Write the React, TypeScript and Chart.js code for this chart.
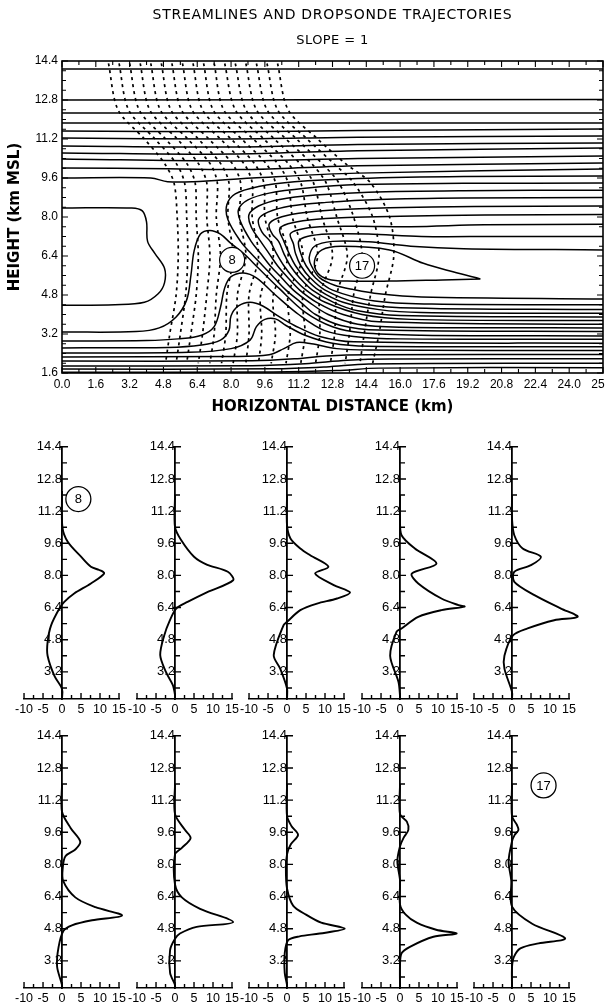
import React, { useEffect, useRef } from 'react';
import { Chart, registerables } from 'chart.js';

Chart.register(...registerables);

const SANS = '"Liberation Sans", Arial, Helvetica, sans-serif';
const DEJAVU = '"DejaVu Sans", "Liberation Sans", sans-serif';
const INK = '#000';

// ---------- texts ----------
const TITLE = 'STREAMLINES AND DROPSONDE TRAJECTORIES';
const SUBTITLE = 'SLOPE = 1';
const X_TITLE = 'HORIZONTAL DISTANCE (km)';
const Y_TITLE = 'HEIGHT (km MSL)';

// ---------- top panel axes ----------
const X_TICKS = [0, 1.6, 3.2, 4.8, 6.4, 8.0, 9.6, 11.2, 12.8, 14.4, 16.0, 17.6, 19.2, 20.8, 22.4, 24.0, 25.6];
const Y_TICKS = [1.6, 3.2, 4.8, 6.4, 8.0, 9.6, 11.2, 12.8, 14.4];
const X_RANGE = [0, 25.6];
const Y_RANGE = [1.6, 14.4];

// ---------- streamlines (x, y pairs, km) ----------
const STREAM_UPPER = [
  [0, 14.07, 25.6, 14.07],
  [0, 12.8, 25.6, 12.82],
  [0, 12.27, 25.6, 12.27],
  [0, 11.86, 25.6, 11.86],
  [0, 11.53, 8, 11.5, 14, 11.55, 25.6, 11.61],
  [0, 11.24, 8, 11.2, 14, 11.27, 25.6, 11.32],
  [0, 10.91, 8, 10.87, 14, 10.97, 25.6, 11.04],
  [0, 10.63, 8, 10.58, 14, 10.72, 25.6, 10.83],
  [0, 10.38, 8, 10.3, 14, 10.4, 25.6, 10.5],
  [0, 10.01, 5, 9.98, 9, 9.95, 14, 10.1, 25.6, 10.22],
  [0, 9.6, 4.2, 9.6, 5, 9.45, 6.2, 9.45, 9, 9.6, 14, 9.8, 25.6, 9.97],
];

const STREAM_BOX = [0, 8.37, 3.3, 8.37, 3.8, 8.25, 4.0, 7.8, 4.05, 7.0, 4.4, 6.5, 4.85, 5.9, 4.85, 5.3, 4.55, 4.85, 3.9, 4.5, 2.5, 4.4, 0, 4.38];

const STREAM_HOOKS = [
  [25.6, 9.68, 19, 9.66, 14, 9.58, 11, 9.45, 9.3, 9.25, 8.2, 8.95, 7.8, 8.5, 7.85, 7.9, 8.45, 7.0, 8.95, 6.5, 9.5, 6.0, 10.05, 5.5, 10.6, 5.0, 11.3, 4.5, 12.0, 4.0, 13.2, 3.55, 15, 3.36, 25.6, 3.3],
  [25.6, 9.39, 19, 9.38, 14, 9.33, 11.5, 9.18, 9.8, 8.98, 8.8, 8.7, 8.35, 8.3, 8.45, 7.8, 8.95, 7.0, 9.4, 6.5, 9.85, 6.0, 10.4, 5.5, 10.95, 5.0, 11.7, 4.5, 12.6, 4.0, 14, 3.6, 16, 3.48, 25.6, 3.45],
  [25.6, 9.1, 19, 9.08, 14.5, 9.02, 12, 8.9, 10.3, 8.72, 9.3, 8.45, 8.85, 8.1, 8.95, 7.6, 9.4, 7.0, 9.8, 6.5, 10.2, 6.0, 10.7, 5.5, 11.25, 5.0, 12.05, 4.5, 13.3, 4.0, 15, 3.7, 25.6, 3.6],
  [25.6, 8.8, 19, 8.78, 15, 8.72, 12.5, 8.6, 10.8, 8.45, 9.75, 8.2, 9.3, 7.9, 9.45, 7.4, 9.85, 7.0, 10.15, 6.5, 10.5, 6.0, 10.95, 5.5, 11.55, 5.0, 12.45, 4.5, 14.2, 4.0, 16.5, 3.8, 25.6, 3.75],
  [25.6, 8.45, 19.5, 8.43, 15.5, 8.38, 13, 8.3, 11.2, 8.15, 10.2, 7.95, 9.8, 7.7, 9.95, 7.3, 10.25, 7.0, 10.5, 6.5, 10.8, 6.0, 11.25, 5.5, 11.85, 5.0, 12.85, 4.5, 14, 4.15, 16, 3.96, 25.6, 3.9],
  [25.6, 8.1, 20, 8.08, 16, 8.03, 13.5, 7.98, 11.7, 7.88, 10.7, 7.72, 10.3, 7.5, 10.5, 7.0, 10.75, 6.5, 11.05, 6.0, 11.5, 5.5, 12.15, 5.0, 13.3, 4.5, 15, 4.2, 17, 4.08, 25.6, 4.05],
  [25.6, 7.7, 20, 7.68, 16.5, 7.6, 14, 7.62, 12.2, 7.6, 11.2, 7.48, 10.8, 7.3, 10.95, 6.9, 11.05, 6.5, 11.3, 6.0, 11.75, 5.5, 12.45, 5.0, 13.9, 4.5, 16, 4.28, 25.6, 4.2],
  [25.6, 7.2, 20.5, 7.2, 17, 7.2, 14.5, 7.3, 12.6, 7.3, 11.6, 7.2, 11.2, 7.0, 11.3, 6.5, 11.55, 6.0, 12.0, 5.5, 12.8, 5.0, 14.8, 4.55, 17.5, 4.43, 25.6, 4.4],
  [25.6, 6.65, 19, 6.7, 16.5, 6.8, 14.5, 6.98, 12.8, 7.0, 11.95, 6.8, 11.7, 6.35, 11.8, 6.0, 12.2, 5.5, 12.9, 5.2, 13.8, 5.02, 15, 4.85, 17, 4.72, 25.6, 4.64],
];

const STREAM_TONGUE = [19.8, 5.46, 18.5, 5.75, 17.1, 6.1, 15.5, 6.65, 13.2, 6.8, 12.3, 6.65, 11.95, 6.2, 12.1, 5.7, 12.6, 5.45, 13.5, 5.37, 15.5, 5.37, 18, 5.42, 19.8, 5.46];

const STREAM_LOWER = [
  [0, 3.28, 3.5, 3.3, 4.6, 3.45, 5.4, 3.9, 5.9, 4.6, 6.1, 5.6, 6.25, 6.6, 6.55, 7.3, 7.0, 7.45, 7.5, 7.3, 7.95, 6.95, 8.6, 6.5, 9.3, 5.9, 10.3, 5.05, 11.5, 4.1, 12.8, 3.5, 14.2, 3.25, 17, 3.15, 25.6, 3.12],
  [0, 2.91, 4, 2.93, 5.5, 3.0, 6.6, 3.15, 7.2, 3.5, 7.5, 4.3, 7.7, 5.1, 8.0, 5.55, 8.6, 5.7, 9.2, 5.5, 10.1, 4.8, 11.2, 4.0, 12.4, 3.35, 13.8, 3.1, 16, 3.0, 25.6, 2.98],
  [0, 2.63, 5, 2.65, 6.6, 2.75, 7.5, 2.95, 7.9, 3.35, 8.0, 3.95, 8.35, 4.35, 8.9, 4.5, 9.5, 4.35, 10.2, 3.95, 11, 3.55, 12.2, 3.1, 13.8, 2.88, 25.6, 2.82],
  [0, 2.42, 6, 2.45, 8, 2.6, 8.9, 2.95, 9.2, 3.5, 9.6, 3.8, 10.1, 3.82, 10.6, 3.55, 11.5, 3.15, 12.8, 2.82, 14.5, 2.7, 25.6, 2.68],
  [0, 2.26, 8, 2.28, 9.8, 2.35, 10.5, 2.6, 11.1, 2.85, 11.8, 2.8, 13, 2.6, 14.5, 2.54, 25.6, 2.52],
  [0, 2.09, 9, 2.1, 11, 2.18, 12.5, 2.3, 14.5, 2.35, 25.6, 2.36],
  [0, 1.89, 9, 1.9, 11.5, 1.98, 13.5, 2.12, 15.5, 2.17, 25.6, 2.18],
  [0, 1.76, 10, 1.77, 12.5, 1.85, 14.5, 1.97, 25.6, 2.0],
  [0, 1.63, 10, 1.64, 13, 1.7, 15, 1.8, 25.6, 1.82],
];

// ---------- dropsonde trajectories: x (km) of each of 17 sondes at each height ----------
const TRAJ_HEIGHTS = [14.3, 12.4, 11.2, 10.2, 9.4, 8.0, 6.4, 4.8, 3.2, 2.0];
const TRAJ_X_143 = [2.2, 2.7, 3.2, 3.7, 4.2, 4.7, 5.2, 5.7, 6.2, 6.7, 7.2, 7.7, 8.2, 8.7, 9.2, 9.7, 10.2];
const TRAJ_X_124 = [2.65, 3.15, 3.65, 4.15, 4.65, 5.15, 5.65, 6.15, 6.65, 7.15, 7.65, 8.2, 8.7, 9.2, 9.7, 10.2, 10.7];
const TRAJ_X_112 = [3.9, 4.4, 4.9, 5.45, 5.95, 6.45, 6.95, 7.5, 8.0, 8.5, 9.05, 9.55, 10.05, 10.6, 11.1, 11.6, 12.1];
const TRAJ_X_102 = [4.85, 5.4, 5.9, 6.45, 7.0, 7.5, 8.05, 8.6, 9.1, 9.65, 10.2, 10.7, 11.25, 11.8, 12.3, 12.85, 13.4];
const TRAJ_X_094 = [5.3, 5.8, 6.3, 6.85, 7.35, 7.9, 8.45, 9.0, 9.55, 10.1, 10.7, 11.3, 11.9, 12.5, 13.1, 13.8, 14.6];
const TRAJ_X_080 = [5.45, 5.9, 6.35, 6.85, 7.3, 7.85, 8.4, 9.0, 9.6, 10.2, 10.9, 11.6, 12.3, 13.0, 13.8, 14.7, 15.5];
const TRAJ_X_064 = [5.5, 5.95, 6.45, 7.0, 7.5, 8.1, 8.7, 9.3, 10.0, 10.7, 11.4, 12.1, 12.8, 13.5, 14.2, 15.0, 15.7];
const TRAJ_X_048 = [5.4, 5.85, 6.35, 6.85, 7.3, 7.8, 8.3, 8.85, 9.4, 10.0, 10.7, 11.4, 12.2, 13.0, 13.8, 14.6, 15.3];
const TRAJ_X_032 = [5.1, 5.6, 6.1, 6.65, 7.2, 7.75, 8.3, 8.85, 9.45, 10.1, 10.8, 11.5, 12.2, 12.9, 13.6, 14.3, 15.0];
const TRAJ_X_020 = [4.9, 5.4, 5.9, 6.45, 7.0, 7.55, 8.1, 8.7, 9.3, 9.9, 10.6, 11.3, 12.0, 12.7, 13.4, 14.1, 14.7];
const TRAJ_ROWS = [TRAJ_X_143, TRAJ_X_124, TRAJ_X_112, TRAJ_X_102, TRAJ_X_094, TRAJ_X_080, TRAJ_X_064, TRAJ_X_048, TRAJ_X_032, TRAJ_X_020];

// ---------- sonde labels on the cross-section ----------
const TOP_CIRCLE_X = [8.05, 14.2];
const TOP_CIRCLE_Y = [6.24, 6.0];
const TOP_CIRCLE_TEXT = ['8', '17'];

// ---------- profile panels (speed x, height y) ----------
const P_X_TICKS = [-10, -5, 0, 5, 10, 15];
const P_Y_TICKS = [3.2, 4.8, 6.4, 8.0, 9.6, 11.2, 12.8, 14.4];
const P_X_RANGE = [-10, 15];
const P_Y_RANGE = [1.85, 14.4];

const PROFILE_01 = [0, 12.2, 0.1, 10.4, 1.5, 9.67, 5.0, 8.93, 7.6, 8.43, 9.8, 8.27, 11.1, 8.1, 7.6, 7.6, 3.2, 7.1, 0.6, 6.68, -0.7, 6.35, -2.9, 5.5, -3.8, 4.68, -3.8, 4.0, -2.0, 3.0, 0, 2.35, 0, 1.85];
const PROFILE_02 = [0, 12.0, 0, 10.4, 1.6, 9.76, 5.0, 8.93, 8.5, 8.53, 13.9, 8.18, 15.3, 7.76, 8.5, 7.17, 3.3, 6.68, 0.3, 6.35, -1.5, 5.7, -2.8, 5.04, -3.9, 4.04, -2.4, 3.2, -0.6, 2.55, 0, 2.05, 0, 1.85];
const PROFILE_03 = [0, 12.0, 0, 10.5, 0.9, 9.84, 3.5, 9.34, 6.1, 9.0, 10.9, 8.43, 7.4, 8.09, 12.3, 7.52, 16.6, 7.15, 13.2, 6.85, 7.9, 6.6, 3.5, 6.27, 0, 5.69, -0.9, 5.53, -3.5, 4.03, -1.8, 3.36, 0, 2.37, 0, 1.85];
const PROFILE_04 = [0, 12.0, 0, 10.8, 0.4, 10.0, 3.9, 9.34, 9.6, 8.59, 3.1, 8.09, 4.8, 7.6, 10.9, 6.85, 15.4, 6.52, 17.0, 6.45, 10.9, 6.27, 4.8, 5.94, 0.4, 5.36, -0.9, 5.2, -2.6, 4.0, -0.4, 2.7, 0, 2.0, 0, 1.85];
const PROFILE_05 = [0, 12.0, 0, 10.8, 0.6, 10.0, 2.8, 9.34, 7.6, 8.93, 5.0, 8.51, 0.6, 8.18, 0.6, 7.68, 5.9, 7.02, 12.9, 6.35, 17.3, 5.94, 11.1, 5.77, 4.1, 5.36, 0.2, 5.0, -2.0, 4.0, -2.0, 3.36, 0, 2.2, 0, 1.85];
const PROFILE_06 = [0, 12.0, 0, 10.62, 2.3, 9.8, 4.8, 9.14, 3.5, 8.74, 0.9, 8.41, 0.2, 7.84, 0.3, 7.18, 3.5, 6.36, 8.8, 5.87, 15.8, 5.46, 7.9, 5.22, 2.6, 4.97, 0.4, 4.7, -0.9, 3.9, -1.3, 2.92, 0, 2.0, 0, 1.85];
const PROFILE_07 = [0, 12.0, 0, 10.5, 2.6, 9.72, 4.1, 9.31, 1.8, 8.82, 0, 8.5, 0, 7.0, 1.8, 6.36, 6.6, 5.79, 15.3, 5.13, 5.7, 4.89, 1.3, 4.56, 0, 4.3, -1.3, 3.74, -1.3, 2.6, 0, 2.0, 0, 1.85];
const PROFILE_08 = [0, 12.0, 0, 10.4, 1.2, 9.9, 2.9, 9.47, 1.0, 9.0, 0, 8.5, -0.3, 7.8, 0, 6.8, 1.6, 5.95, 5.0, 5.5, 9.0, 5.1, 15.2, 4.8, 8.6, 4.56, 3.3, 4.42, 0.3, 4.23, -0.6, 3.58, -0.6, 2.6, 0, 2.0, 0, 1.85];
const PROFILE_09 = [0, 12.0, 0, 10.5, 1.8, 10.13, 2.2, 9.72, 0.9, 9.31, 0, 8.9, -0.7, 8.16, 0, 7.2, 0, 6.0, 1.5, 5.5, 4.4, 5.1, 9.5, 4.75, 14.9, 4.56, 8.8, 4.4, 2.6, 3.9, 0.4, 3.58, 0, 3.0, 0, 1.85];
const PROFILE_10 = [0, 12.0, 0, 10.4, 1.3, 9.96, 1.7, 9.72, 0.7, 9.47, 0, 9.15, -0.9, 8.16, -0.2, 7.2, 0, 5.9, 5.3, 5.05, 14.0, 4.32, 7.0, 4.07, 2.2, 3.82, 0.5, 3.4, 0, 2.9, 0, 1.85];

const PROFILES_ROW_1 = [PROFILE_01, PROFILE_02, PROFILE_03, PROFILE_04, PROFILE_05];
const PROFILES_ROW_2 = [PROFILE_06, PROFILE_07, PROFILE_08, PROFILE_09, PROFILE_10];

const PANEL_CIRCLE_INDEX = [0, 9];
const PANEL_CIRCLE_X = [4.3, 8.3];
const PANEL_CIRCLE_Y = [11.8, 11.93];
const PANEL_CIRCLE_TEXT = ['8', '17'];

// ---------- layout (pixels) ----------
const PANEL_ZERO_X = [62, 174.5, 287, 399.5, 512];
const PANEL_ROW_TOP = [435, 724];

const pairs = (a: number[]) => {
  const out: { x: number; y: number }[] = [];
  for (let i = 0; i < a.length; i += 2) out.push({ x: a[i], y: a[i + 1] });
  return out;
};

const circleText = {
  id: 'circleText',
  afterDatasetsDraw(chart: any) {
    const { ctx } = chart;
    ctx.save();
    ctx.fillStyle = INK;
    ctx.font = `13px ${SANS}`;
    ctx.textAlign = 'center';
    ctx.textBaseline = 'middle';
    chart.data.datasets.forEach((ds: any, i: number) => {
      if (!ds.circleText) return;
      const meta = chart.getDatasetMeta(i);
      meta.data.forEach((pt: any, j: number) => ctx.fillText(ds.circleText[j], pt.x, pt.y + 0.5));
    });
    ctx.restore();
  },
};

const topDecor = {
  id: 'topDecor',
  afterDraw(chart: any) {
    const { ctx, chartArea: a, scales } = chart;
    const xs = scales.x;
    const ys = scales.y;
    ctx.save();
    ctx.strokeStyle = INK;
    ctx.lineWidth = 1.6;
    ctx.strokeRect(a.left, a.top, a.right - a.left, a.bottom - a.top);
    ctx.lineWidth = 1.1;
    ctx.beginPath();
    for (let i = 0; i <= 32; i++) {
      const py = ys.getPixelForValue(Y_RANGE[0] + i * 0.4);
      const len = i % 4 === 0 ? 6 : 4;
      ctx.moveTo(a.left, py); ctx.lineTo(a.left + len, py);
      ctx.moveTo(a.right, py); ctx.lineTo(a.right - len, py);
    }
    for (let i = 0; i <= 32; i++) {
      const px = xs.getPixelForValue(X_RANGE[0] + i * 0.8);
      const len = i % 2 === 0 ? 6 : 4;
      ctx.moveTo(px, a.top); ctx.lineTo(px, a.top + len);
      ctx.moveTo(px, a.bottom); ctx.lineTo(px, a.bottom - len);
    }
    ctx.stroke();
    const cx = (a.left + a.right) / 2;
    ctx.fillStyle = INK;
    ctx.textAlign = 'center';
    ctx.textBaseline = 'middle';
    ctx.font = `14px ${DEJAVU}`;
    (ctx as any).letterSpacing = '0.7px';
    ctx.fillText(TITLE, cx, 15);
    ctx.font = `13px ${DEJAVU}`;
    (ctx as any).letterSpacing = '0.4px';
    ctx.fillText(SUBTITLE, cx, 41);
    ctx.restore();
  },
};

const panelTicks = {
  id: 'panelTicks',
  afterDraw(chart: any) {
    const { ctx, scales, chartArea: a } = chart;
    const xs = scales.x;
    const ys = scales.y;
    const x0 = xs.getPixelForValue(0);
    ctx.save();
    ctx.strokeStyle = INK;
    ctx.lineWidth = 1.4;
    ctx.beginPath();
    for (let i = 0; i <= 15; i++) {
      const v = P_Y_RANGE[1] - i * 0.8;
      if (v < P_Y_RANGE[0]) break;
      const py = ys.getPixelForValue(v);
      const major = i % 2 === 0;
      ctx.moveTo(major ? x0 - 2 : x0, py);
      ctx.lineTo(x0 + (major ? 6 : 5), py);
    }
    for (let i = 0; i <= 10; i++) {
      const px = xs.getPixelForValue(P_X_RANGE[0] + i * 2.5);
      const len = i % 2 === 0 ? 6 : 4;
      ctx.moveTo(px, a.bottom); ctx.lineTo(px, a.bottom - len);
    }
    ctx.stroke();
    ctx.restore();
  },
};

function TopChart() {
  const ref = useRef<HTMLCanvasElement>(null);
  useEffect(() => {
    const datasets: any[] = [];
    datasets.push({
      data: TOP_CIRCLE_X.map((x, i) => ({ x, y: TOP_CIRCLE_Y[i] })),
      circleText: TOP_CIRCLE_TEXT,
      showLine: false,
      pointRadius: 12.5,
      pointBackgroundColor: '#fff',
      pointBorderColor: INK,
      pointBorderWidth: 1.2,
      order: -1,
    });
    const line = (arr: number[]) => ({
      data: pairs(arr), showLine: true, borderColor: INK, borderWidth: 1.5,
      pointRadius: 0, tension: 0.35, fill: false,
    });
    [...STREAM_UPPER, STREAM_BOX, ...STREAM_HOOKS, STREAM_TONGUE, ...STREAM_LOWER].forEach((s) => datasets.push(line(s)));
    for (let k = 0; k < TRAJ_X_143.length; k++) {
      datasets.push({
        data: TRAJ_HEIGHTS.map((h, r) => ({ x: TRAJ_ROWS[r][k], y: h })),
        showLine: true, borderColor: INK, borderWidth: 1.7, borderDash: [3, 4],
        pointRadius: 0, tension: 0.3, fill: false,
      });
    }
    const chart = new Chart(ref.current as HTMLCanvasElement, {
      type: 'scatter',
      data: { datasets },
      options: {
        animation: false,
        responsive: false,
        events: [],
        layout: { autoPadding: false, padding: { top: 61, left: 0, right: 17, bottom: 0 } },
        plugins: { legend: { display: false }, tooltip: { enabled: false } },
        scales: {
          x: {
            type: 'linear', min: X_RANGE[0], max: X_RANGE[1],
            afterBuildTicks: (s: any) => { s.ticks = X_TICKS.map((v) => ({ value: v })); },
            afterFit: (s: any) => { s.height = 47; },
            grid: { display: false, drawTicks: false },
            border: { display: false },
            ticks: { color: INK, font: { family: SANS, size: 12 }, padding: 4, autoSkip: false, maxRotation: 0, callback: (v: any) => Number(v).toFixed(1) },
            title: { display: true, text: X_TITLE, color: INK, font: { family: DEJAVU, size: 15, weight: 'bold' }, padding: { top: 0, bottom: 4 } },
          },
          y: {
            type: 'linear', min: Y_RANGE[0], max: Y_RANGE[1],
            afterBuildTicks: (s: any) => { s.ticks = Y_TICKS.map((v) => ({ value: v })); },
            afterFit: (s: any) => { s.width = 62; },
            grid: { display: false, drawTicks: false },
            border: { display: false },
            ticks: { color: INK, font: { family: SANS, size: 12 }, padding: 4, autoSkip: false, callback: (v: any) => Number(v).toFixed(1) },
            title: { display: true, text: Y_TITLE, color: INK, font: { family: DEJAVU, size: 15, weight: 'bold' }, padding: { top: 6, bottom: 0 } },
          },
        },
      } as any,
      plugins: [topDecor, circleText],
    });
    return () => chart.destroy();
  }, []);
  return <canvas ref={ref} width={620} height={420} style={{ position: 'absolute', left: 0, top: 0, width: 620, height: 420 }} />;
}

function ProfilePanel(props: { points: number[]; zeroX: number; top: number; circle: null | { x: number; y: number; text: string } }) {
  const { points, zeroX, top, circle } = props;
  const ref = useRef<HTMLCanvasElement>(null);
  useEffect(() => {
    const datasets: any[] = [];
    if (circle) {
      datasets.push({
        data: [{ x: circle.x, y: circle.y }], circleText: [circle.text], showLine: false,
        pointRadius: 12.5, pointBackgroundColor: '#fff', pointBorderColor: INK, pointBorderWidth: 1.3, order: -1,
      });
    }
    datasets.push({
      data: pairs(points), showLine: true, borderColor: INK, borderWidth: 1.9,
      pointRadius: 0, tension: 0.3, fill: false, clip: false,
    });
    const chart = new Chart(ref.current as HTMLCanvasElement, {
      type: 'scatter',
      data: { datasets },
      options: {
        animation: false,
        responsive: false,
        events: [],
        layout: { autoPadding: false, padding: { top: 10, left: 12, right: 18, bottom: 0 } },
        plugins: { legend: { display: false }, tooltip: { enabled: false } },
        scales: {
          x: {
            type: 'linear', min: P_X_RANGE[0], max: P_X_RANGE[1],
            afterBuildTicks: (s: any) => { s.ticks = P_X_TICKS.map((v) => ({ value: v })); },
            afterFit: (s: any) => { s.height = 20; },
            grid: { display: false, drawTicks: false },
            border: { display: true, color: INK, width: 1.6 },
            ticks: { color: INK, font: { family: SANS, size: 12.5 }, padding: 3, autoSkip: false, maxRotation: 0, callback: (v: any) => String(v) },
          },
          y: {
            type: 'linear', position: { x: 0 }, min: P_Y_RANGE[0], max: P_Y_RANGE[1],
            afterBuildTicks: (s: any) => { s.ticks = P_Y_TICKS.map((v) => ({ value: v })); },
            grid: { display: false, drawTicks: false },
            border: { display: true, color: INK, width: 1.8 },
            ticks: { color: INK, font: { family: SANS, size: 13 }, padding: 4, autoSkip: false, callback: (v: any) => Number(v).toFixed(1) },
          },
        },
      } as any,
      plugins: [panelTicks, circleText],
    });
    return () => chart.destroy();
  }, []);
  return <canvas ref={ref} width={125} height={284} style={{ position: 'absolute', left: zeroX - 50, top, width: 125, height: 284 }} />;
}

const circleFor = (idx: number) => {
  const c = PANEL_CIRCLE_INDEX.indexOf(idx);
  return c < 0 ? null : { x: PANEL_CIRCLE_X[c], y: PANEL_CIRCLE_Y[c], text: PANEL_CIRCLE_TEXT[c] };
};

export default function App() {
  return (
    <div style={{ position: 'absolute', left: 0, top: 0, width: 605, height: 1008, overflow: 'hidden', background: '#fff' }}>
      <TopChart />
      {PROFILES_ROW_1.map((p, i) => (
        <ProfilePanel key={'r1' + i} points={p} zeroX={PANEL_ZERO_X[i]} top={PANEL_ROW_TOP[0]} circle={circleFor(i)} />
      ))}
      {PROFILES_ROW_2.map((p, i) => (
        <ProfilePanel key={'r2' + i} points={p} zeroX={PANEL_ZERO_X[i]} top={PANEL_ROW_TOP[1]} circle={circleFor(i + 5)} />
      ))}
    </div>
  );
}
